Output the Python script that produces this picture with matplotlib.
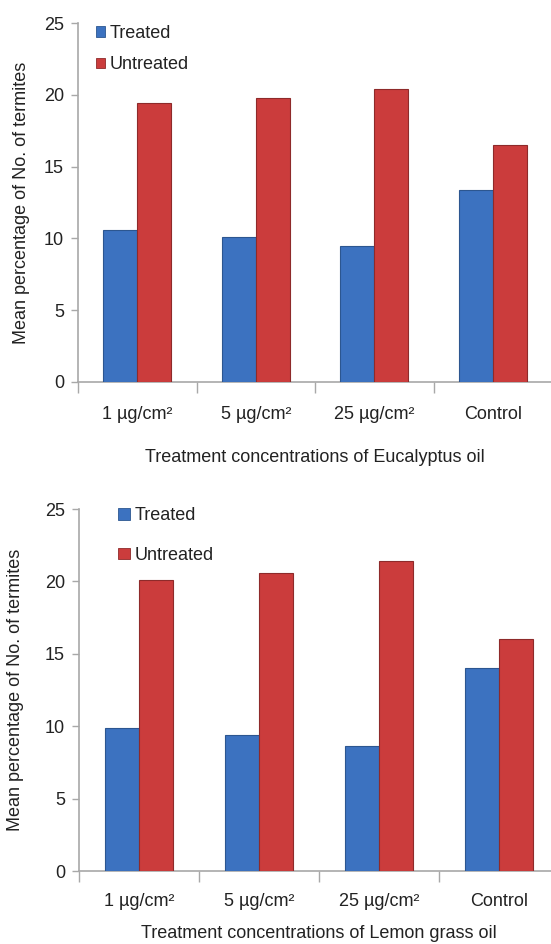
import matplotlib
matplotlib.use("Agg")
import matplotlib.pyplot as plt
from matplotlib.patches import Patch
import numpy as np

plt.rcParams['font.family'] = ['Liberation Sans', 'DejaVu Sans']

categories = ["1 µg/cm²", "5 µg/cm²", "25 µg/cm²", "Control"]
series_names = ["Treated", "Untreated"]

euc_treated = [10.6, 10.1, 9.5, 13.4]
euc_untreated = [19.4, 19.8, 20.4, 16.5]

lem_treated = [9.9, 9.4, 8.6, 14.0]
lem_untreated = [20.1, 20.6, 21.4, 16.0]

yticks = [0, 5, 10, 15, 20, 25]
ylabel = "Mean percentage of No. of termites"
xlabels = ["Treatment concentrations of Eucalyptus oil",
           "Treatment concentrations of Lemon grass oil"]

BLUE = "#3c72c0"
RED = "#cb3c3c"
BLUE_E = "#2c5690"
RED_E = "#8e2a2a"
TXT = "#222222"
AX = "#a8a8a8"
FS = 13

fig = plt.figure(figsize=(5.51, 9.44), dpi=100)

W, H = 551, 944

def make_ax(left_px, top_px, bottom_px, width_px):
    return fig.add_axes([left_px / W, (H - bottom_px) / H,
                         width_px / W, (bottom_px - top_px) / H])

ax1 = make_ax(78, 23, 382, 474)
ax2 = make_ax(79, 509, 871, 480)

def draw(ax, treated, untreated, xlabel, leg_x, leg_y, spacing, hsize, ylab_pad, xlab_pad, tick_pad):
    x = np.arange(len(categories))
    bw = 0.287
    ax.bar(x - bw / 2, treated, bw, color=BLUE, edgecolor=BLUE_E, linewidth=0.8, zorder=3)
    ax.bar(x + bw / 2, untreated, bw, color=RED, edgecolor=RED_E, linewidth=0.8, zorder=3)
    ax.set_xlim(-0.5, 3.5)
    ax.set_ylim(0, 25)
    ax.set_yticks(yticks)
    ax.set_yticklabels([str(v) for v in yticks], fontsize=FS, color=TXT)
    ax.set_xticks(x)
    ax.set_xticklabels(categories, fontsize=FS, color=TXT)
    ax.tick_params(axis='x', length=0, pad=tick_pad)
    ax.set_xticks(np.arange(-0.5, 3.6, 1.0), minor=True)
    ax.tick_params(axis='x', which='minor', length=8, color=AX, width=1)
    ax.tick_params(axis='y', length=5, color=AX, width=1, pad=5)
    for s in ['top', 'right']:
        ax.spines[s].set_visible(False)
    for s in ['left', 'bottom']:
        ax.spines[s].set_color(AX)
        ax.spines[s].set_linewidth(1.2)
    ax.set_ylabel(ylabel, fontsize=FS, color=TXT, labelpad=ylab_pad)
    ax.set_xlabel(xlabel, fontsize=FS, color=TXT, labelpad=xlab_pad)
    handles = [Patch(facecolor=BLUE, edgecolor=BLUE_E, linewidth=0.6),
               Patch(facecolor=RED, edgecolor=RED_E, linewidth=0.6)]
    leg = ax.legend(handles, series_names, loc='upper left',
                    bbox_to_anchor=(leg_x, leg_y), frameon=False,
                    fontsize=FS, handlelength=hsize, handleheight=hsize,
                    handletextpad=0.3, labelspacing=spacing,
                    borderpad=0, borderaxespad=0)
    for t in leg.get_texts():
        t.set_color(TXT)

draw(ax1, euc_treated, euc_untreated, xlabels[0], 0.037, 0.995, 0.8, 0.5, 10, 19, 17)
draw(ax2, lem_treated, lem_untreated, xlabels[1], 0.082, 1.005, 1.25, 0.62, 15, 11, 16)

fig.savefig("out.png", dpi=100)
